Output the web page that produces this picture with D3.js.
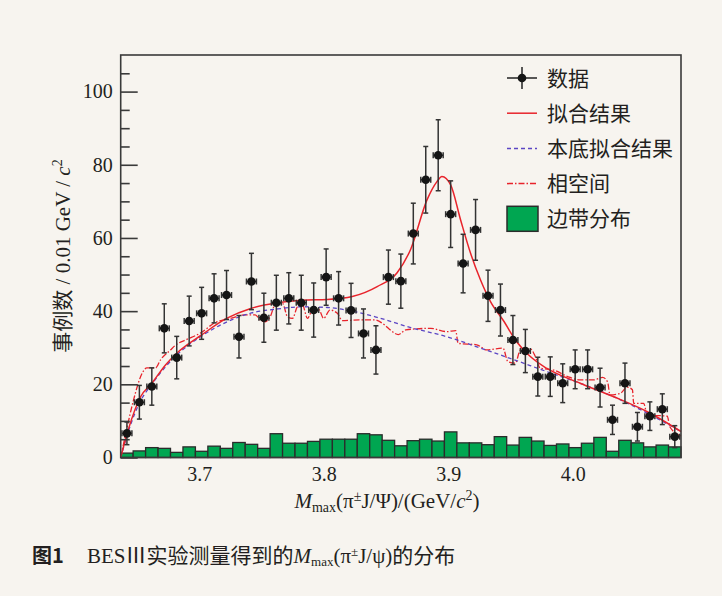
<!DOCTYPE html>
<html>
<head>
<meta charset="utf-8">
<script src="https://cdn.jsdelivr.net/npm/d3@7"></script>
<style>
  body { margin: 0; background: #f7f4ef; }
  svg { display: block; }
  text { fill: #231f20; }
</style>
</head>
<body>
<div id="chart"></div>
<script>
// bin centres, 0.01 GeV/c^2 wide
const binCenters = [3.642, 3.652, 3.662, 3.672, 3.682, 3.692, 3.702, 3.712, 3.722, 3.732,
  3.742, 3.752, 3.762, 3.772, 3.782, 3.792, 3.802, 3.812, 3.822, 3.832,
  3.842, 3.852, 3.862, 3.872, 3.882, 3.892, 3.902, 3.912, 3.922, 3.932,
  3.942, 3.952, 3.962, 3.972, 3.982, 3.992, 4.002, 4.012, 4.022, 4.032,
  4.042, 4.052, 4.062, 4.072, 4.082];
const dataCounts = [6.6, 15.1, 19.4, 35.3, 27.3, 37.3, 39.4, 43.5, 44.4, 33.0,
  48.1, 38.2, 42.3, 43.5, 42.3, 40.3, 49.3, 43.5, 40.2, 33.9,
  29.4, 49.3, 48.2, 61.2, 75.9, 82.6, 66.5, 53.0, 62.2, 44.2,
  40.3, 32.1, 29.1, 22.1, 22.1, 20.3, 24.1, 24.1, 19.1, 10.3,
  20.3, 8.4, 11.3, 13.2, 5.7];
const dataErrors = [3.1, 4.6, 5.1, 6.7, 5.8, 6.8, 7.1, 6.7, 6.7, 5.8,
  7.7, 6.7, 7.5, 7.0, 7.5, 7.4, 7.7, 7.3, 7.4, 6.7,
  6.6, 7.4, 7.4, 8.3, 9.1, 9.7, 9.1, 8.0, 8.3, 7.0,
  7.1, 6.7, 5.9, 5.3, 5.4, 5.3, 5.3, 5.3, 5.3, 4.0,
  5.5, 3.9, 3.9, 4.2, 3.0];
const sideband = [1.2, 1.8, 2.7, 2.5, 1.4, 2.9, 1.7, 3.1, 2.5, 4.1,
  3.6, 2.5, 6.5, 3.9, 3.9, 4.4, 5.0, 5.0, 5.0, 6.5,
  6.2, 4.7, 3.2, 4.6, 5.0, 4.5, 7.0, 4.0, 4.0, 3.5,
  5.7, 3.4, 5.5, 4.5, 3.3, 3.7, 2.7, 3.9, 5.5, 1.7,
  4.7, 4.0, 2.9, 3.4, 2.9];

// fit result (solid red)
const fitMass = [3.637, 3.643, 3.653, 3.662, 3.673, 3.682, 3.702, 3.722, 3.742, 3.763,
  3.783, 3.803, 3.823, 3.843, 3.859, 3.870, 3.883, 3.891, 3.895, 3.902,
  3.910, 3.918, 3.926, 3.934, 3.945, 3.953, 3.966, 3.979, 4.006, 4.033, 4.060, 4.087];
const fitValues = [0, 7.5, 16.6, 20.3, 25.3, 28.5, 33.5, 38, 40.8, 42.3,
  43, 43.2, 44, 46.7, 50.5, 57, 70.4, 75.4, 76.8, 74.5,
  64.9, 55.8, 48.5, 42.6, 37.1, 32.6, 27.6, 24.4, 20.3, 16.6, 12.5, 7.1];

// background fit (dashed)
const bgMass = [3.637, 3.643, 3.653, 3.662, 3.673, 3.682, 3.702, 3.722, 3.742, 3.763,
  3.783, 3.803, 3.823, 3.843, 3.870, 3.899, 3.926, 3.953, 3.979, 4.006, 4.033, 4.060, 4.087];
const bgValues = [0, 7, 15.5, 20, 24.8, 28, 33.2, 37, 39.5, 40.6,
  41.2, 41, 40, 38.3, 35.5, 33, 29.9, 26.7, 23.5, 20.3, 16.6, 12.1, 7.1];

// phase space (dash-dot)
const phspMass = [3.637, 3.642, 3.647, 3.655, 3.658, 3.665, 3.669, 3.677, 3.681, 3.689,
  3.701, 3.713, 3.725, 3.737, 3.745, 3.749, 3.753, 3.757, 3.761, 3.767,
  3.771, 3.775, 3.779, 3.783, 3.787, 3.791, 3.796, 3.800, 3.805, 3.811,
  3.815, 3.829, 3.841, 3.849, 3.853, 3.860, 3.866, 3.886, 3.899, 3.906,
  3.908, 3.923, 3.931, 3.944, 3.948, 3.954, 3.958, 3.966, 3.970, 3.974,
  3.985, 3.996, 4.006, 4.017, 4.024, 4.028, 4.030, 4.038, 4.044, 4.048,
  4.049, 4.057, 4.060, 4.076, 4.078, 4.087];
const phspValues = [0, 8, 15.3, 23.5, 24.5, 24.5, 26.7, 29.4, 30.7, 32.1,
  34.0, 36.9, 38.0, 39.0, 39.0, 37.6, 37.1, 38.4, 41.7, 42.1,
  38.4, 38.0, 41.2, 41.7, 38.0, 40.3, 40.5, 38.0, 40.3, 39.4,
  37.4, 37.6, 37.6, 36.2, 35.0, 33.6, 34.9, 35.3, 34.4, 34.7,
  31.2, 30.8, 29.4, 29.9, 26.2, 25.8, 29.4, 29.7, 27.6, 24.4,
  23.9, 22.1, 21.2, 21.2, 21.9, 20.7, 17.1, 17.5, 19.2, 18.5,
  14.8, 14.8, 11.6, 11.3, 8.4, 5.9];

const yMajorTicks = [0, 20, 40, 60, 80, 100];
const yMinorTicks = [5, 10, 15, 25, 30, 35, 45, 50, 55, 65, 70, 75, 85, 90, 95, 105];
const xTicks = [3.7, 3.8, 3.9, 4.0];
const legendLabels = ['数据', '拟合结果', '本底拟合结果', '相空间', '边带分布'];

const width = 722, height = 596;
const binWidth = 0.01;
const RED = '#e8232b', PURPLE = '#5b46c4', GREEN = '#00a651', INK = '#231f20';
const SERIF = '"Liberation Serif", "Times New Roman", serif';
const CJK = '"Liberation Serif", "Noto Sans CJK SC", serif';

const svg = d3.select('#chart').append('svg')
  .attr('width', width)
  .attr('height', height);

const x = d3.scaleLinear().domain([3.637, 4.087]).range([120.7, 681]);
const y = d3.scaleLinear().domain([0, 110]).range([457.5, 55]);

// sideband histogram
svg.append('g').selectAll('rect')
  .data(binCenters)
  .enter()
  .append('rect')
  .attr('x', d => x(d - binWidth / 2))
  .attr('width', d => x(d + binWidth / 2) - x(d - binWidth / 2))
  .attr('y', (d, i) => y(sideband[i]))
  .attr('height', (d, i) => y(0) - y(sideband[i]))
  .attr('fill', GREEN)
  .attr('stroke', '#2b2b2b')
  .attr('stroke-width', 1.3);

// curves
const line = d3.line()
  .x(d => x(d[0]))
  .y(d => y(d[1]))
  .curve(d3.curveMonotoneX);

svg.append('path')
  .datum(phspMass.map((m, i) => [m, phspValues[i]]))
  .attr('d', line)
  .attr('fill', 'none')
  .attr('stroke', RED)
  .attr('stroke-width', 1.3)
  .attr('stroke-dasharray', '6,2,1.5,2');

svg.append('path')
  .datum(bgMass.map((m, i) => [m, bgValues[i]]))
  .attr('d', line)
  .attr('fill', 'none')
  .attr('stroke', PURPLE)
  .attr('stroke-width', 1.3)
  .attr('stroke-dasharray', '4,3');

svg.append('path')
  .datum(fitMass.map((m, i) => [m, fitValues[i]]))
  .attr('d', line)
  .attr('fill', 'none')
  .attr('stroke', RED)
  .attr('stroke-width', 1.5);

// data points with error bars
const pts = svg.append('g').attr('stroke', '#333').attr('stroke-width', 1.5);
binCenters.forEach((m, i) => {
  const cx = x(m), cy = y(dataCounts[i]);
  const top = y(dataCounts[i] + dataErrors[i]), bot = y(dataCounts[i] - dataErrors[i]);
  const xl = x(m - 0.004), xr = x(m + 0.004);
  pts.append('line').attr('x1', cx).attr('x2', cx).attr('y1', top).attr('y2', bot);
  pts.append('line').attr('x1', cx - 2.5).attr('x2', cx + 2.5).attr('y1', top).attr('y2', top);
  pts.append('line').attr('x1', cx - 2.5).attr('x2', cx + 2.5).attr('y1', bot).attr('y2', bot);
  pts.append('line').attr('x1', xl).attr('x2', xr).attr('y1', cy).attr('y2', cy);
  pts.append('line').attr('x1', xl).attr('x2', xl).attr('y1', cy - 3).attr('y2', cy + 3);
  pts.append('line').attr('x1', xr).attr('x2', xr).attr('y1', cy - 3).attr('y2', cy + 3);
  pts.append('circle').attr('cx', cx).attr('cy', cy).attr('r', 4.3)
    .attr('fill', '#151515').attr('stroke', 'none');
});

// frame
svg.append('rect')
  .attr('x', x.range()[0]).attr('y', y.range()[1])
  .attr('width', x.range()[1] - x.range()[0])
  .attr('height', y.range()[0] - y.range()[1])
  .attr('fill', 'none')
  .attr('stroke', '#3a3a3a')
  .attr('stroke-width', 1.6);

// y axis, ticks pointing inward
const yAxis = svg.append('g')
  .attr('transform', `translate(${x.range()[0]},0)`)
  .call(d3.axisLeft(y).tickValues(yMajorTicks).tickSize(-17).tickPadding(8));
yAxis.select('.domain').remove();
yAxis.selectAll('line').attr('stroke', '#3a3a3a').attr('stroke-width', 1.6);
yAxis.selectAll('text').attr('font-family', SERIF).attr('font-size', 20).attr('fill', INK);

const yMinor = svg.append('g')
  .attr('transform', `translate(${x.range()[0]},0)`)
  .call(d3.axisLeft(y).tickValues(yMinorTicks).tickSize(-9).tickFormat(''));
yMinor.select('.domain').remove();
yMinor.selectAll('line').attr('stroke', '#3a3a3a').attr('stroke-width', 1.6);

// x axis labels
const xAxis = svg.append('g')
  .attr('transform', `translate(0,${y.range()[0]})`)
  .call(d3.axisBottom(x).tickValues(xTicks).tickSize(0).tickPadding(9).tickFormat(d3.format('.1f')));
xAxis.select('.domain').remove();
xAxis.selectAll('text').attr('font-family', SERIF).attr('font-size', 20).attr('fill', INK);

// x title
const xt = svg.append('text')
  .attr('x', 387).attr('y', 508)
  .attr('text-anchor', 'middle')
  .attr('font-family', SERIF).attr('font-size', 21);
xt.append('tspan').attr('font-style', 'italic').text('M');
xt.append('tspan').attr('font-size', 14).attr('dy', 4).text('max');
xt.append('tspan').attr('dy', -4).text('(π');
xt.append('tspan').attr('font-size', 14).attr('dy', -7).text('±');
xt.append('tspan').attr('dy', 7).text('J/Ψ)/(GeV/');
xt.append('tspan').attr('font-style', 'italic').text('c');
xt.append('tspan').attr('font-size', 14).attr('dy', -8).text('2');
xt.append('tspan').attr('dy', 8).text(')');

// y title
const yt = svg.append('text')
  .attr('transform', 'translate(70,256) rotate(-90)')
  .attr('text-anchor', 'middle')
  .attr('font-family', CJK).attr('font-size', 21);
yt.append('tspan').text('事例数 / 0.01 GeV / ');
yt.append('tspan').attr('font-style', 'italic').text('c');
yt.append('tspan').attr('font-size', 14).attr('dy', -8).text('2');

// legend
const legendY = d => 78 + d * 35.2;
const lg = svg.append('g');
const lx0 = 507, lx1 = 537;
legendLabels.forEach((lab, i) => {
  const ly = legendY(i);
  if (i === 0) {
    lg.append('line').attr('x1', lx0).attr('x2', lx1).attr('y1', ly).attr('y2', ly)
      .attr('stroke', '#222').attr('stroke-width', 1.5);
    lg.append('line').attr('x1', 522).attr('x2', 522).attr('y1', ly - 11).attr('y2', ly + 11)
      .attr('stroke', '#222').attr('stroke-width', 1.5);
    lg.append('circle').attr('cx', 522).attr('cy', ly).attr('r', 4.3).attr('fill', '#151515');
  } else if (i === 1) {
    lg.append('line').attr('x1', lx0).attr('x2', lx1).attr('y1', ly).attr('y2', ly)
      .attr('stroke', RED).attr('stroke-width', 1.5);
  } else if (i === 2) {
    lg.append('line').attr('x1', lx0).attr('x2', lx1).attr('y1', ly).attr('y2', ly)
      .attr('stroke', PURPLE).attr('stroke-width', 1.5).attr('stroke-dasharray', '4,3');
  } else if (i === 3) {
    lg.append('line').attr('x1', lx0).attr('x2', lx1).attr('y1', ly).attr('y2', ly)
      .attr('stroke', RED).attr('stroke-width', 1.5).attr('stroke-dasharray', '6,2,1.5,2');
  } else {
    lg.append('rect').attr('x', lx0).attr('y', ly - 12.5).attr('width', 31).attr('height', 25)
      .attr('fill', GREEN).attr('stroke', '#2b2b2b').attr('stroke-width', 1.5);
  }
  lg.append('text')
    .attr('x', 547).attr('y', ly)
    .attr('dy', '0.36em')
    .attr('font-family', '"Noto Sans CJK SC", sans-serif')
    .attr('font-size', 21)
    .attr('fill', '#333')
    .text(lab);
});

// caption
svg.append('text')
  .attr('x', 32).attr('y', 563)
  .attr('font-family', '"Noto Sans CJK SC", sans-serif')
  .attr('font-weight', 'bold')
  .attr('font-size', 20)
  .text('图1');
const cap = svg.append('text')
  .attr('x', 87).attr('y', 563)
  .attr('font-family', CJK)
  .attr('font-size', 21);
cap.append('tspan').text('BESⅢ实验测量得到的');
cap.append('tspan').attr('font-style', 'italic').text('M');
cap.append('tspan').attr('font-size', 13).attr('dy', 3).text('max');
cap.append('tspan').attr('dy', -3).text('(π');
cap.append('tspan').attr('font-size', 13).attr('dy', -7).text('±');
cap.append('tspan').attr('dy', 7).text('J/ψ)的分布');
</script>
</body>
</html>
